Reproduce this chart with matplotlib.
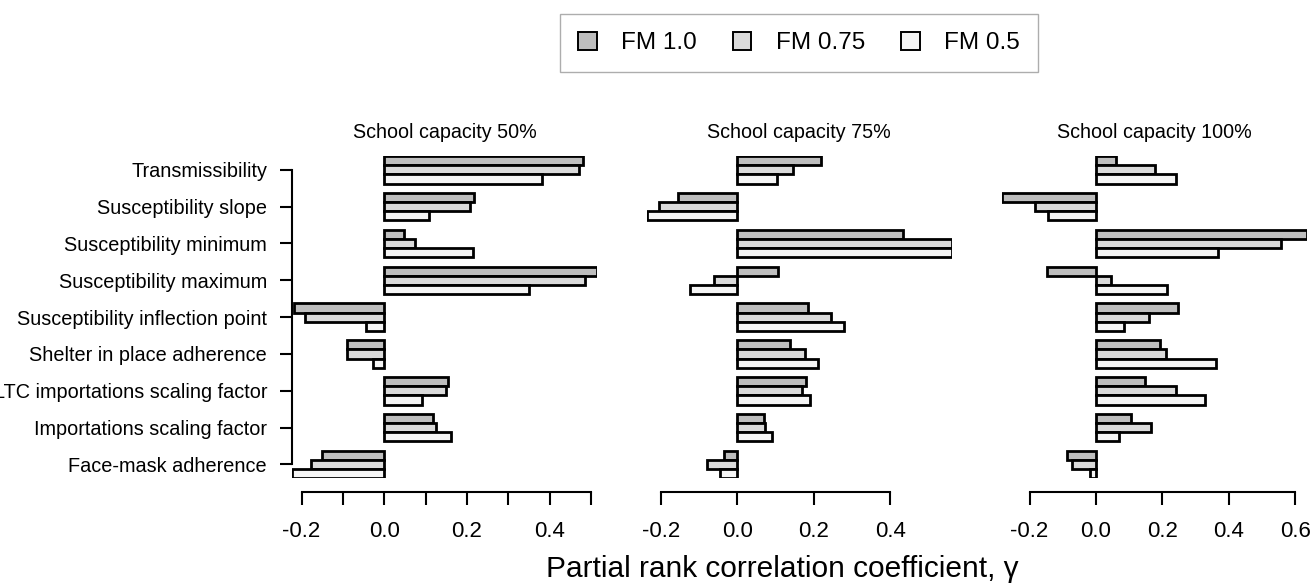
import numpy as np
import matplotlib
matplotlib.use("Agg")
import matplotlib.pyplot as plt
from matplotlib.patches import Patch

plt.rcParams['font.family'] = ['Liberation Sans', 'DejaVu Sans']

# --- data ---
params = ["Transmissibility", "Susceptibility slope", "Susceptibility minimum",
          "Susceptibility maximum", "Susceptibility inflection point",
          "Shelter in place adherence", "LTC importations scaling factor",
          "Importations scaling factor", "Face-mask adherence"]
series = ["FM 1.0", "FM 0.75", "FM 0.5"]
colors = ["#bebebe", "#dadada", "#f5f5f5"]
panel_titles = ["School capacity 50%", "School capacity 75%", "School capacity 100%"]

cap50_fm10 = [0.481, 0.217, 0.047, 0.514, -0.217, -0.090, 0.154, 0.118, -0.151]
cap50_fm075 = [0.470, 0.208, 0.075, 0.486, -0.192, -0.091, 0.149, 0.125, -0.176]
cap50_fm05 = [0.382, 0.108, 0.215, 0.349, -0.045, -0.027, 0.091, 0.161, -0.223]

cap75_fm10 = [0.218, -0.155, 0.433, 0.107, 0.186, 0.137, 0.180, 0.070, -0.034]
cap75_fm075 = [0.147, -0.205, 0.560, -0.061, 0.245, 0.178, 0.169, 0.073, -0.080]
cap75_fm05 = [0.104, -0.236, 0.560, -0.124, 0.279, 0.212, 0.190, 0.090, -0.044]

cap100_fm10 = [0.059, -0.283, 0.635, -0.149, 0.246, 0.193, 0.148, 0.105, -0.088]
cap100_fm075 = [0.178, -0.183, 0.557, 0.045, 0.160, 0.210, 0.240, 0.165, -0.073]
cap100_fm05 = [0.242, -0.145, 0.368, 0.214, 0.085, 0.362, 0.327, 0.068, -0.019]

panels = [
    [cap50_fm10, cap50_fm075, cap50_fm05],
    [cap75_fm10, cap75_fm075, cap75_fm05],
    [cap100_fm10, cap100_fm075, cap100_fm05],
]
xlims = [(-0.223, 0.514), (-0.237, 0.560), (-0.283, 0.635)]
xticks = [np.arange(-0.2, 0.51, 0.1), np.arange(-0.2, 0.41, 0.2), np.arange(-0.2, 0.61, 0.2)]
ticklabels = [["-0.2", "", "0.0", "", "0.2", "", "0.4", ""],
              ["-0.2", "0.0", "0.2", "0.4"],
              ["-0.2", "0.0", "0.2", "0.4", "0.6"]]

W, H = 1312, 585
fig = plt.figure(figsize=(W / 100, H / 100), dpi=100)

lefts = [292, 646.5, 1002]
pw = 305
top, bottom = 156, 478.3

n = len(params)
group_pos = np.arange(n) * 4

for k, vals in enumerate(panels):
    ax = fig.add_axes([lefts[k] / W, (H - bottom) / H, pw / W, (bottom - top) / H])
    for j, v in enumerate(vals):
        ax.barh(group_pos + j + 0.5, v, height=1.0, color=colors[j],
                edgecolor="black", linewidth=2.0, zorder=2)
    ax.set_ylim(4 * n - 1, 0)
    ax.set_xlim(*xlims[k])

    for s in ["top", "right"]:
        ax.spines[s].set_visible(False)
    ax.spines["bottom"].set_position(("outward", 9.6))
    ax.spines["bottom"].set_bounds(xticks[k][0], xticks[k][-1])
    ax.spines["bottom"].set_linewidth(1.5)
    ax.set_xticks(xticks[k])
    ax.set_xticklabels(ticklabels[k])
    ax.tick_params(axis="x", length=9, width=1.5, pad=12, labelsize=16)

    if k == 0:
        ax.spines["left"].set_bounds(group_pos[0] + 1.5, group_pos[-1] + 1.5)
        ax.spines["left"].set_linewidth(1.5)
        ax.set_yticks(group_pos + 1.5)
        ax.set_yticklabels(params)
        ax.tick_params(axis="y", length=9, width=1.5, pad=9, labelsize=14.3)
    else:
        ax.spines["left"].set_visible(False)
        ax.set_yticks([])

    ax.text(0.5, 1 + 23 / (bottom - top), panel_titles[k], transform=ax.transAxes,
            ha="center", va="center", fontsize=14.2)

fig.text(782 / W, 1 - 569 / H, "Partial rank correlation coefficient, γ",
         ha="center", va="center", fontsize=21.5)

handles = [Patch(facecolor=c, edgecolor="black", linewidth=1.4) for c in colors]
leg = fig.legend(handles, series, ncol=3, loc="center",
                 bbox_to_anchor=(799 / W, 1 - 43 / H), fontsize=17.5,
                 frameon=True, fancybox=False, edgecolor="#999999",
                 handlelength=0.75, handleheight=0.75, handletextpad=1.0,
                 columnspacing=1.5, borderpad=0.75)
leg.get_frame().set_linewidth(1.0)

fig.savefig("out.png", dpi=100)
